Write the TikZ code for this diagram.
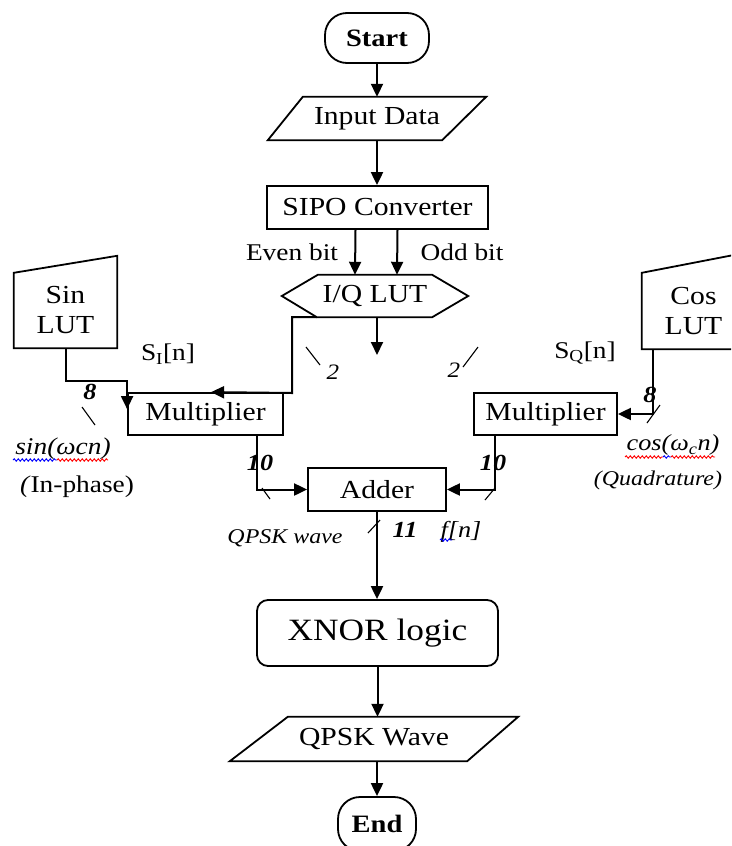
\documentclass[tikz,border=0pt]{standalone}
\usepackage{fontspec}
\setmainfont{Liberation Serif}[FakeStretch=1.14]
\usetikzlibrary{arrows.meta,calc,decorations.pathmorphing}
\begin{document}
\begin{tikzpicture}[x=1pt,y=-1pt,
  every node/.style={font=\fontsize{26}{30}\selectfont, inner sep=0pt},
  box/.style 2 args={draw, line width=1.8pt, minimum width=#1, minimum height=#2},
  term/.style 2 args={draw, line width=1.8pt, rounded corners=22pt, minimum width=#1, minimum height=#2},
  rbox/.style 2 args={draw, line width=1.8pt, rounded corners=11pt, minimum width=#1, minimum height=#2},
  ghost/.style 2 args={minimum width=#1, minimum height=#2},
  outline/.style={draw, line width=1.8pt, line join=miter},
  arr/.style={line width=2pt, -{Triangle[length=13pt,width=12pt]}},
  tick/.style={line width=1.1pt},
  bw/.style={font=\fontsize{23}{26}\selectfont\bfseries\itshape},
  nw/.style={font=\fontsize{22}{26}\selectfont\itshape},
  side/.style={font=\fontsize{24}{28}\selectfont},
  note/.style={font=\fontsize{21}{24}\selectfont\itshape},
  squig/.style={line width=0.9pt, decorate, decoration={snake, amplitude=1.2pt, segment length=4pt}}
]
\useasboundingbox (0,0) rectangle (731,846);
\clip (0,0) rectangle (731,846);

% main column
\node[term={104}{50}, font=\fontsize{25}{28}\selectfont\bfseries] (start) at (377,38) {Start};
\node[ghost={218}{43}] (input) at (377,118.5) {Input Data};
\draw[outline] (input.south west) -- ($(input.north west)+(35,0)$) -- (input.north east) -- ($(input.south east)+(-44,0)$) -- cycle;
\node[box={221}{43}] (sipo) at (377.5,207.5) {SIPO Converter};
\node[ghost={186}{42}] (iq) at (375,296) {I/Q LUT};
\draw[outline] (iq.west) -- ($(iq.north west)+(36,0)$) -- ($(iq.north east)+(-36,0)$) -- (iq.east) -- ($(iq.south east)+(-36,0)$) -- ($(iq.south west)+(35,0)$) -- cycle;

% LUTs
\node[ghost={103}{75}, align=center] (sinlut) at (65.5,310.5) {Sin\\LUT};
\draw[outline] (sinlut.south west) -- (sinlut.north west) -- ($(sinlut.north east)+(0,-17)$) -- (sinlut.south east) -- cycle;
\node[ghost={103}{76}, align=center] (coslut) at (693.5,311) {Cos\\LUT};
\draw[outline] (coslut.south west) -- (coslut.north west) -- ($(coslut.north east)+(0,-20)$) -- (coslut.south east) -- cycle;

% multipliers, adder
\node[box={155}{42}] (m1) at (205.5,414) {Multiplier};
\node[box={143}{42}] (m2) at (545.5,414) {Multiplier};
\node[box={138}{43}] (adder) at (377,489.5) {Adder};
\node[rbox={241}{66}, font=\fontsize{31}{34}\selectfont] (xnor) at (377.5,633) {XNOR logic};
\node[ghost={288}{44}] (qpsk) at (374,739) {QPSK Wave};
\draw[outline] (qpsk.south west) -- ($(qpsk.north west)+(58,0)$) -- (qpsk.north east) -- ($(qpsk.south east)+(-51,0)$) -- cycle;
\node[term={78}{54}, font=\fontsize{25}{28}\selectfont\bfseries] (end) at (377,824) {End};

% connectors
\draw[arr] (start) -- (input);
\draw[arr] (input.south) -- (input.south |- sipo.north);
\draw[arr] ($(sipo.south)+(-22,0)$) -- ($(iq.north)+(-20,0)$);
\draw[arr] ($(sipo.south)+(20,0)$) -- ($(iq.north)+(22,0)$);
\coordinate (iqout) at (377,355);
\draw[arr] (iq.south -| iqout) -- (iqout);
\coordinate (iqbl) at ($(iq.south west)+(35,0)$);
\coordinate (jI) at (292,393);
\draw[arr] (iqbl) -- (iqbl -| jI) -- (jI) -- ($(m1.north west)+(84,0)$);
\draw[arr] (sinlut.south) |- ($(m1.north west)+(0,-11)$) -- ($(m1.north west)+(0,17)$);
\coordinate (cw) at ($(coslut.south west)+(11,0)$);
\draw[arr] (cw) |- (m2.east);
\draw[arr] ($(m1.south west)+(130,0)$) |- (adder.west);
\draw[arr] ($(m2.south west)+(22,0)$) |- (adder.east);
\draw[arr] (adder.south) -- (adder.south |- xnor.north);
\draw[arr] (xnor.south) -- (xnor.south |- qpsk.north);
\draw[arr] (end.north |- qpsk.south) -- (end.north);

% labels
\node[side] (even) at (292,252) {Even bit};
\node[side] (odd) at (462,252) {Odd bit};
\node[side] (si) at (168,354) {S\textsubscript{I}[n]};
\node[side] (sq) at (585,353) {S\textsubscript{Q}[n]};

\node[bw] (w8a) at (90,392) {8};
\draw[tick] (82,407) -- (95,425);
\node[nw] (w2a) at (333,372) {2};
\draw[tick] (306,347) -- (320,365);
\node[nw] (w2b) at (454,370) {2};
\draw[tick] (463,367) -- (478,347);
\node[bw] (w8b) at (650,395) {8};
\draw[tick] (647,423) -- (660,405);
\node[bw] (w10a) at (260,463) {10};
\draw[tick] (262,488) -- (270,499);
\node[bw] (w10b) at (493,463) {10};
\draw[tick] (485,500) -- (495,488);
\node[bw] (w11) at (405,530) {11};
\draw[tick] (368,533) -- (380,520);

\node[note] (qw) at (285,538) {QPSK wave};
\node[font=\fontsize{23}{26}\selectfont\itshape] (fn) at (461,532) {f[n]};
\draw[squig, blue] (440,540) -- (452,540);

\node[font=\fontsize{24}{28}\selectfont\itshape] (sinw) at (63,449) {sin(ωcn)};
\draw[squig, blue] (13,460) -- (57,460);
\draw[squig, red] (57,460) -- (108,460);
\node[side] (inph) at (77,487) {\textit{(}In-phase)};
\node[font=\fontsize{23}{26}\selectfont\itshape] (cosw) at (673,445) {cos(ω\textsubscript{c}n)};
\draw[squig, red] (625,457) -- (663,457);
\draw[squig, blue] (663,457) -- (671,457);
\draw[squig, red] (671,457) -- (715,457);
\node[note] (quad) at (658,480) {(Quadrature)};
\end{tikzpicture}
\end{document}
